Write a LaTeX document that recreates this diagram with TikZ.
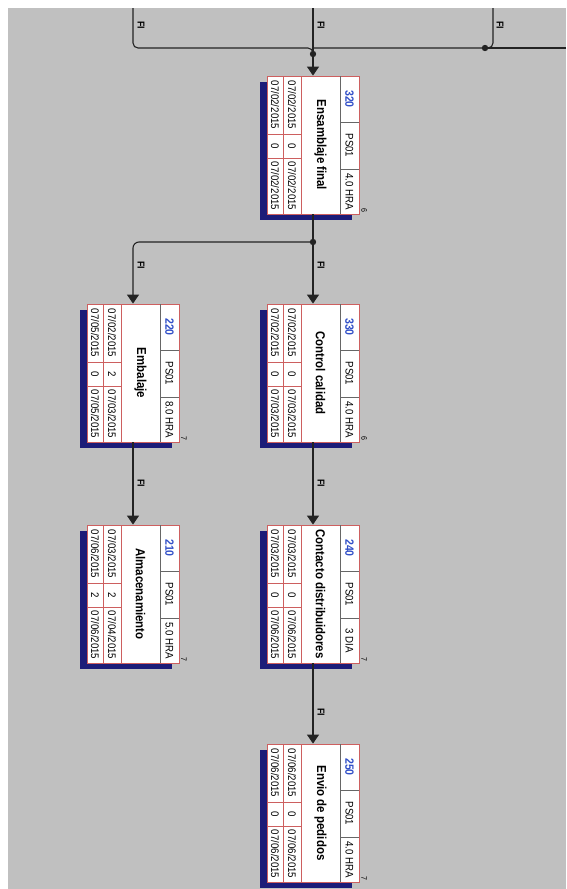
\documentclass[tikz,border=0pt]{standalone}
\usepackage{fontspec}
\setmainfont{Liberation Sans}
\newfontfamily\narrowsf{Liberation Sans}[FakeStretch=0.88]
\usetikzlibrary{arrows.meta,calc}
\definecolor{BackClr}{RGB}{192,192,192}
\definecolor{ShadowClr}{RGB}{28,28,120}
\definecolor{BoxClr}{RGB}{205,95,95}
\definecolor{IdClr}{RGB}{50,80,200}
\definecolor{LinkClr}{RGB}{35,35,35}

\tikzset{
  taskbox/.style={rectangle,draw=BoxClr,fill=white,line width=.8pt,
    minimum width=92pt,minimum height=138pt,inner sep=0pt},
  cellline/.style={draw=BoxClr,line width=.6pt},
  headline/.style={draw=gray!80!black,line width=.6pt},
  txt/.style={rotate=-90,inner sep=0pt},
  datetxt/.style={txt,font=\narrowsf\fontsize{11}{11}\selectfont},
  celltxt/.style={txt,font=\narrowsf\fontsize{11}{11}\selectfont},
  idtxt/.style={txt,text=IdClr,font=\narrowsf\bfseries\fontsize{12}{12}\selectfont},
  titletxt/.style={txt,font=\narrowsf\bfseries\fontsize{13}{13}\selectfont},
  counttxt/.style={txt,font=\narrowsf\fontsize{8}{8}\selectfont},
  fitxt/.style={txt,font=\narrowsf\bfseries\fontsize{10}{10}\selectfont},
  link/.style={draw=LinkClr,line width=1.1pt},
  arrowlink/.style={link,-{Triangle[length=9pt,width=12pt]}},
}

% #1 node, #2 x of centre, #3 y of top, #4 id, #5 duration, #6 title, #7 count
\newcommand{\TaskBox}[7]{%
  \fill[ShadowClr] (#2-53,#3+6) rectangle (#2+39,#3+144);
  \node[taskbox] (#1) at (#2,#3+69) {};
  \draw[cellline] (#2-30,#3) -- (#2-30,#3+138)
                  (#2-12,#3) -- (#2-12,#3+138)
                  (#2-46,#3+58) -- (#2-12,#3+58)
                  (#2-46,#3+82) -- (#2-12,#3+82);
  \draw[headline] (#2+27,#3) -- (#2+27,#3+138)
                  (#2+27,#3+46) -- (#2+46,#3+46)
                  (#2+27,#3+93) -- (#2+46,#3+93);
  \node[idtxt] at (#2+36.5,#3+23) {#4};
  \node[celltxt] at (#2+36.5,#3+69.5) {PS01};
  \node[celltxt] at (#2+36.5,#3+115.5) {#5};
  \node[titletxt] at (#2+7.5,#3+69) {#6};
  \node[counttxt] at (#2+51,#3+134) {#7};
}

% #1 x of centre, #2 y of top, #3-#5 first row, #6-#8 second row
\newcommand{\TaskDates}[8]{%
  \node[datetxt] at (#1-21,#2+29) {#3};
  \node[datetxt] at (#1-21,#2+70) {#4};
  \node[datetxt] at (#1-21,#2+110) {#5};
  \node[datetxt] at (#1-38,#2+29) {#6};
  \node[datetxt] at (#1-38,#2+70) {#7};
  \node[datetxt] at (#1-38,#2+110) {#8};
}

\begin{document}
\begin{tikzpicture}[x=1pt,y=-1pt]
\useasboundingbox (0,0) rectangle (566,889);
\fill[white] (0,0) rectangle (566,889);
\fill[BackClr] (8,8) rectangle (566,889);

\TaskBox{t320}{313}{76}{320}{4.0 HRA}{Ensamblaje final}{6}
\TaskDates{313}{76}{07/02/2015}{0}{07/02/2015}{07/02/2015}{0}{07/02/2015}
\TaskBox{t330}{313}{304}{330}{4.0 HRA}{Control calidad}{6}
\TaskDates{313}{304}{07/02/2015}{0}{07/03/2015}{07/02/2015}{0}{07/03/2015}
\TaskBox{t220}{133}{304}{220}{8.0 HRA}{Embalaje}{7}
\TaskDates{133}{304}{07/02/2015}{2}{07/03/2015}{07/05/2015}{0}{07/05/2015}
\TaskBox{t240}{313}{525}{240}{3 DIA}{Contacto distribuidores}{7}
\TaskDates{313}{525}{07/03/2015}{0}{07/06/2015}{07/03/2015}{0}{07/06/2015}
\TaskBox{t210}{133}{525}{210}{5.0 HRA}{Almacenamiento}{7}
\TaskDates{133}{525}{07/03/2015}{2}{07/04/2015}{07/06/2015}{2}{07/06/2015}
\TaskBox{t250}{313}{744}{250}{4.0 HRA}{Envio de pedidos}{7}
\TaskDates{313}{744}{07/06/2015}{0}{07/06/2015}{07/06/2015}{0}{07/06/2015}

% incoming links
\coordinate (inL) at (133,8);
\coordinate (inM) at (313,8);
\coordinate (inR) at (493,8);
\coordinate (inE) at (566,48);
\coordinate (j0) at (485,48);
\coordinate (j1) at (313,54);
\coordinate (j2) at (313,242);

\draw[link,rounded corners=5pt] (inL) -- (133,48) -- (313,48) -- (j1);
\draw[link,rounded corners=5pt] (inR) -- (493,48) -- (313,48);
\draw[link] (inE) -- (j0);
\draw[link] (inM) -- (j1);
\draw[arrowlink] (j1) -- (t320.north);
\draw[link] (t320.south) -- (j2);
\draw[arrowlink] (j2) -- (t330.north);
\draw[arrowlink,rounded corners=6pt] (j2) -| (t220.north);
\draw[arrowlink] (t330.south) -- (t240.north);
\draw[arrowlink] (t220.south) -- (t210.north);
\draw[arrowlink] (t240.south) -- (t250.north);
\fill[LinkClr] (j0) circle (3.2pt) (j1) circle (3.2pt) (j2) circle (3.2pt);

\node[fitxt] (fi1) at (141,25) {FI};
\node[fitxt] (fi2) at (321,25) {FI};
\node[fitxt] (fi3) at (500,25) {FI};
\node[fitxt] (fi4) at (141,265) {FI};
\node[fitxt] (fi5) at (321,265) {FI};
\node[fitxt] (fi6) at (141,483) {FI};
\node[fitxt] (fi7) at (321,483) {FI};
\node[fitxt] (fi8) at (321,712) {FI};
\end{tikzpicture}
\end{document}
